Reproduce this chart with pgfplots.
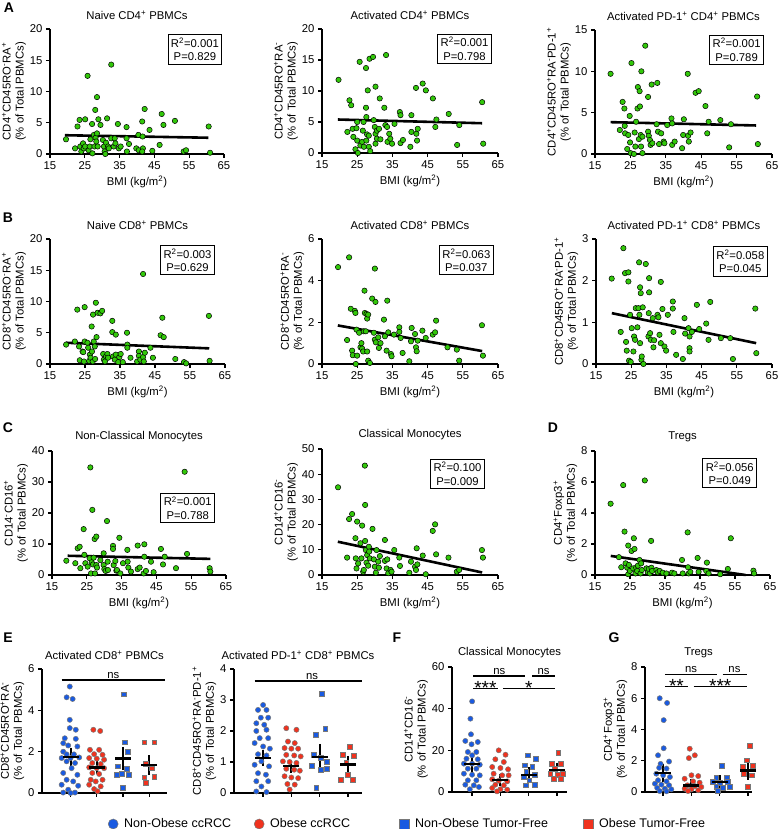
\documentclass[border=0pt]{standalone}
\usepackage{fontspec}
\setmainfont{Liberation Sans}
\usepackage{pgfplots}
\pgfplotsset{compat=1.18}

\definecolor{ptgreen}{RGB}{50,200,10}
\definecolor{ptblue}{RGB}{25,90,225}
\definecolor{ptred}{RGB}{240,50,30}
\definecolor{ptedge}{RGB}{120,120,120}

\newcommand{\sups}[1]{\textsuperscript{#1}}

\pgfplotsset{
  prism/.style={
    scale only axis, axis lines=left, axis line style={-, line width=1.3pt},
    tick style={black, line width=1.3pt}, tick align=outside, major tick length=4pt,
    clip=false, ymin=0,
    font=\fontsize{11.3}{13}\selectfont,
    /pgf/number format/assume math mode=true,
    ylabel style={align=center},
    ylabel shift=-3pt,
    anchor=south west,
  },
  bmi/.style={prism, xmin=15, xmax=65, xtick={15,25,...,65},
    xlabel={BMI (kg/m\sups{2})}},
  grp/.style={prism, xtick={0,1,2,3}, xticklabels={\mbox{},\mbox{},\mbox{},\mbox{}}},
  scat/.style={only marks, mark=*, mark size=2.7pt,
    mark options={fill=ptgreen, draw=black, line width=0.5pt}},
  fit/.style={black, line width=2.6pt, no marks},
  bc/.style={only marks, mark=*, mark size=2.6pt, mark options={fill=ptblue, draw=ptedge, line width=0.5pt}},
  rc/.style={only marks, mark=*, mark size=2.6pt, mark options={fill=ptred, draw=ptedge, line width=0.5pt}},
  bs/.style={only marks, mark=square*, mark size=2.4pt, mark options={fill=ptblue, draw=ptedge, line width=0.5pt}},
  rs/.style={only marks, mark=square*, mark size=2.4pt, mark options={fill=ptred, draw=ptedge, line width=0.5pt}},
  msem/.style={forget plot, only marks, mark=-, mark size=8pt, mark options={line width=2.3pt, black},
    error bars/.cd, y dir=both, y explicit, error mark=-,
    error mark options={mark size=4.5pt, line width=2pt, black},
    error bar style={line width=2pt, black}},
}

\newcommand{\statbox}[3]{\node[draw, line width=0.9pt, align=center, inner sep=3pt,
  font=\fontsize{11.3}{13.5}\selectfont] at (rel axis cs:#1) {R\sups{2}=#2\\P=#3};}
\newcommand{\stars}[3]{\node[inner sep=0pt, font=\fontsize{19}{19}\selectfont] at (axis cs:#1,#2) [yshift=0.5pt] {#3};}

\begin{document}
\begin{tikzpicture}[x=1pt, y=1pt]
\useasboundingbox (0,0) rectangle (777,829);

% ---------------- row A ----------------
\begin{axis}[bmi, at={(50pt,675pt)}, width=174pt, height=125pt, ymax=20, ytick={0,5,...,20},
  title={Naive CD4\sups{+} PBMCs},
  ylabel={CD4\sups{+}CD45RO\sups{-}RA\sups{+}\\(\% of Total PBMCs)}]
\addplot[scat] coordinates {
(19.6,2.35)(22.2,0.9)(22.9,4.4)(23.5,5.45)(23.7,1.2)(24.0,0.4)(24.5,1.7)(24.7,0.9)(25.1,5.55)(25.1,1.2)
(25.8,12.5)(26.1,0.6)(26.4,1.2)(26.6,2.35)(27.1,4.8)(27.2,0.1)(27.6,3.05)(27.8,1.2)(28.0,7.05)(28.1,2.6)
(28.3,2.0)(28.5,9.1)(28.5,3.3)(28.7,1.2)(28.9,5.55)(29.5,4.65)(30.2,2.25)(30.5,1.2)(30.7,0.4)(30.9,0.0)
(31.1,1.8)(31.4,5.7)(31.7,1.2)(31.9,0.9)(32.6,14.3)(32.6,2.5)(33.3,1.2)(33.6,2.5)(33.8,1.7)(34.5,4.8)
(34.8,0.9)(35.3,1.2)(37.0,4.3)(37.0,2.5)(37.1,0.4)(37.7,1.6)(39.8,0.9)(40.4,3.05)(40.5,0.6)(41.5,5.2)
(41.6,2.8)(41.7,0.9)(42.2,7.2)(41.5,0.4)(43.6,3.85)(44.4,0.5)(46.5,1.45)(47.1,6.4)(47.6,4.65)(50.9,5.3)
(53.4,0.4)(54.1,0.6)(60.6,4.4)(61.0,0.2)};
\addplot[fit] coordinates {(19.3,3.0) (60.5,2.6)};
\statbox{0.833,0.836}{0.001}{0.829}
\end{axis}

\begin{axis}[bmi, at={(322pt,676pt)}, width=176pt, height=124pt, ymax=20, ytick={0,5,...,20},
  title={Activated CD4\sups{+} PBMCs},
  ylabel={CD4\sups{+}CD45RO\sups{+}RA\sups{-}\\(\% of Total PBMCs)}]
\addplot[scat] coordinates {
(19.7,11.8)(22.2,3.4)(22.8,8.5)(23.3,7.7)(23.7,3.9)(23.9,2.6)(24.5,0.6)(25.2,0.0)(24.8,4.0)(25.0,5.0)
(25.0,2.0)(25.7,14.7)(25.9,1.2)(26.4,1.8)(26.6,3.6)(26.8,5.0)(26.9,1.0)(27.5,13.7)(27.5,7.3)(27.6,5.8)
(27.6,2.0)(27.8,3.0)(28.0,10.1)(28.3,2.8)(28.3,1.0)(28.5,15.2)(28.7,0.3)(29.5,15.5)(29.7,5.3)(30.0,4.2)
(30.2,3.1)(30.2,10.7)(30.2,1.5)(30.6,2.3)(30.6,3.6)(31.2,3.9)(31.4,8.8)(31.6,2.2)(32.7,7.3)(33.0,4.5)
(33.2,15.8)(33.5,4.2)(33.6,1.8)(34.1,3.1)(34.4,2.3)(34.9,1.5)(35.6,4.7)(37.1,6.6)(37.3,6.1)(37.3,1.6)
(38.0,2.1)(40.1,1.0)(40.4,6.1)(40.4,3.4)(41.7,10.5)(41.8,3.1)(42.0,2.0)(42.2,3.9)(43.6,11.2)(44.5,10.1)
(46.5,8.8)(47.2,4.2)(47.5,5.4)(51.0,6.3)(53.4,1.3)(54.0,4.5)(60.5,8.2)(60.8,1.5)};
\addplot[fit] coordinates {(19.5,5.4) (60.5,4.8)};
\statbox{0.81,0.84}{0.001}{0.798}
\end{axis}

\begin{axis}[bmi, at={(595pt,675pt)}, width=177pt, height=124pt, ymax=15, ytick={0,5,...,15},
  title={Activated PD-1\sups{+} CD4\sups{+} PBMCs},
  ylabel={CD4\sups{+}CD45RO\sups{+}RA\sups{-}PD-1\sups{+}\\(\% of Total PBMCs)}]
\addplot[scat] coordinates {
(19.4,9.7)(22.0,2.9)(22.8,6.3)(23.3,5.5)(23.4,3.4)(23.5,2.5)(24.1,0.6)(24.4,2.3)(24.8,4.6)(24.9,1.4)
(25.1,0.1)(25.3,11.0)(26.0,0.0)(26.2,2.6)(26.4,0.9)(26.6,3.9)(27.0,5.5)(27.1,8.1)(27.4,1.8)(27.6,7.6)
(27.7,5.75)(27.9,2.3)(28.0,0.9)(28.1,10.0)(28.4,2.1)(28.4,0.1)(29.2,13.1)(30.0,6.9)(30.0,2.7)(30.2,2.2)
(30.5,1.7)(30.7,1.1)(31.0,8.4)(31.2,1.3)(32.6,8.6)(32.4,3.6)(32.8,2.7)(33.1,1.2)(33.7,2.5)(34.4,1.5)
(34.6,1.3)(35.4,3.5)(36.6,4.3)(36.8,1.1)(36.8,3.7)(37.5,1.5)(39.6,0.7)(39.9,2.3)(40.1,4.2)(41.2,9.7)
(41.3,2.2)(41.5,1.5)(42.0,2.6)(43.4,7.4)(44.3,7.6)(46.2,5.8)(46.7,2.5)(47.1,3.9)(50.4,4.1)(53.4,3.6)
(52.9,0.8)(60.8,6.95)(61.0,1.2)};
\addplot[fit] coordinates {(19.4,3.85) (60.5,3.45)};
\statbox{0.80,0.84}{0.001}{0.789}
\end{axis}

% ---------------- row B ----------------
\begin{axis}[bmi, at={(50pt,465pt)}, width=175pt, height=125pt, ymax=20, ytick={0,5,...,20},
  title={Naive CD8\sups{+} PBMCs},
  ylabel={CD8\sups{+}CD45RO\sups{-}RA\sups{+}\\(\% of Total PBMCs)}]
\addplot[scat] coordinates {
(19.6,3.1)(22.1,3.6)(22.8,8.7)(23.3,2.8)(23.5,0.6)(24.3,2.0)(24.5,1.9)(24.7,0.4)(24.9,9.1)(24.9,3.6)
(25.7,3.4)(25.9,2.6)(26.2,0.5)(26.4,1.5)(26.6,1.0)(26.9,6.0)(27.0,2.0)(27.2,0.4)(27.3,7.9)(27.5,3.6)
(27.8,2.8)(27.9,0.8)(28.1,9.8)(28.3,4.3)(28.6,8.2)(29.4,8.1)(29.9,8.5)(30.2,1.6)(30.4,0.7)(30.7,0.4)
(31.0,1.2)(31.4,1.6)(31.6,1.0)(32.8,6.9)(32.8,5.1)(33.0,1.2)(33.5,0.7)(33.8,4.7)(33.8,1.5)(34.5,0.3)
(34.8,1.1)(35.2,1.6)(35.8,0.3)(37.0,5.0)(37.1,3.1)(37.1,2.6)(38.0,1.0)(39.9,0.4)(40.4,2.0)(40.4,1.3)
(40.8,0.7)(41.6,14.4)(41.6,1.1)(41.8,0.4)(42.1,1.8)(43.7,2.6)(44.4,1.0)(46.6,4.6)(47.1,7.4)(47.5,4.3)
(50.8,0.8)(53.3,0.3)(53.9,0.1)(60.4,7.7)(60.6,0.5)};
\addplot[fit] coordinates {(19.5,3.4) (60.5,2.5)};
\statbox{0.786,0.83}{0.003}{0.629}
\end{axis}

\begin{axis}[bmi, at={(322pt,465pt)}, width=176pt, height=125pt, ymax=6, ytick={0,2,4,6},
  title={Activated CD8\sups{+} PBMCs},
  ylabel={CD8\sups{+}CD45RO\sups{+}RA\sups{-}\\(\% of Total PBMCs)}]
\addplot[scat] coordinates {
(19.56,4.65)(22.13,1.15)(22.7,5.12)(23.18,2.65)(23.56,0.64)(23.75,0.42)(24.32,2.55)(24.5,2.45)(24.6,0.0)(24.8,1.65)
(24.98,0.4)(25.55,1.5)(25.93,0.8)(26.2,1.0)(26.4,0.74)(26.7,0.6)(26.88,1.57)(27.07,3.52)(27.17,2.45)(27.45,1.57)
(27.64,2.4)(27.83,2.18)(28.12,2.37)(27.83,0.6)(28.12,0.16)(28.6,0.05)(29.26,3.14)(29.73,1.5)(30.02,4.58)(30.2,2.98)
(30.02,1.17)(30.3,1.04)(30.97,1.28)(31.16,0.77)(31.63,1.0)(32.6,2.13)(32.87,1.33)(33.54,3.04)(33.35,0.64)(33.82,1.52)
(34.58,0.48)(34.77,0.37)(35.44,1.41)(36.96,1.76)(36.96,1.54)(37.34,1.25)(37.9,0.53)(39.8,0.13)(40.47,1.73)(40.28,1.09)
(41.43,1.44)(41.7,0.8)(41.9,0.61)(42.19,1.12)(43.52,1.6)(44.47,1.25)(46.46,1.41)(47.13,1.52)(47.41,2.08)(50.65,0.8)
(53.3,0.69)(53.97,0.16)(60.44,1.86)(60.72,0.4)};
\addplot[fit] coordinates {(19.5,1.85) (60.5,0.62)};
\statbox{0.82,0.83}{0.063}{0.037}
\end{axis}

\begin{axis}[bmi, at={(596pt,465pt)}, width=176pt, height=125pt, ymax=3, ytick={0,1,2,3},
  title={Activated PD-1\sups{+} CD8\sups{+} PBMCs},
  ylabel={CD8\sups{+}CD45RO\sups{+}RA\sups{-}PD-1\sups{+}\\(\% of Total PBMCs)}]
\addplot[scat] coordinates {
(19.46,2.05)(22.02,0.77)(22.78,2.78)(23.25,2.18)(23.54,0.53)(23.73,0.32)(24.2,2.2)(24.2,1.98)(24.39,0.08)(24.68,1.18)
(24.87,0.05)(25.15,0.86)(25.63,0.3)(25.82,0.66)(26.1,0.58)(26.29,1.34)(26.76,0.88)(27.05,1.34)(27.24,2.44)(27.33,1.18)
(27.52,1.84)(27.52,0.5)(27.71,1.7)(27.9,0.1)(28.0,0.18)(28.28,1.36)(28.47,0.0)(29.14,2.4)(29.9,0.66)(29.99,1.22)
(30.09,2.06)(30.09,1.72)(30.37,0.74)(30.56,0.58)(31.13,1.1)(31.32,0.4)(31.51,0.57)(32.46,1.18)(32.74,1.12)(33.03,0.7)
(33.41,1.97)(33.41,0.5)(33.88,1.32)(34.45,0.42)(34.92,0.32)(35.4,1.18)(36.82,1.5)(36.82,1.33)(37.0,0.77)(37.77,0.22)
(39.67,0.12)(40.14,1.1)(40.33,0.73)(41.28,0.86)(41.57,0.66)(41.57,0.38)(41.57,0.3)(42.23,0.77)(43.65,1.42)(44.32,0.84)
(46.31,0.97)(46.97,0.58)(47.45,1.49)(50.48,0.62)(53.14,0.62)(53.9,0.12)(60.26,1.33)(60.54,0.26)};
\addplot[fit] coordinates {(19.5,1.22) (60.5,0.5)};
\statbox{0.82,0.82}{0.058}{0.045}
\end{axis}

% ---------------- row C/D ----------------
\begin{axis}[bmi, at={(52pt,254pt)}, width=174pt, height=124pt, ymax=40, ytick={0,10,...,40},
  title={Non-Classical Monocytes},
  ylabel={CD14\sups{-}CD16\sups{+}\\(\% of Total PBMCs)}]
\addplot[scat] coordinates {
(19.12,4.6)(21.7,3.8)(22.38,8.6)(22.95,9.1)(23.14,2.2)(24.1,14.8)(24.29,6.5)(24.58,3.8)(25.25,2.7)(25.82,5.4)
(26.02,34.7)(26.2,0.5)(26.4,4.1)(26.59,21.0)(26.78,3.4)(26.97,5.6)(27.26,11.6)(27.36,0.5)(27.74,12.4)(27.74,3.2)
(27.93,2.4)(28.89,4.8)(29.85,7.0)(29.85,3.2)(30.04,1.9)(30.42,1.3)(30.8,17.4)(31.0,4.3)(31.09,1.6)(32.53,9.4)
(32.53,8.4)(32.72,3.2)(33.2,4.5)(33.49,1.4)(33.68,1.6)(34.35,12.0)(34.64,0.5)(35.4,3.8)(36.65,8.1)(36.74,4.3)
(36.93,2.4)(37.7,1.1)(39.62,9.5)(39.62,1.9)(40.19,2.4)(41.34,0.5)(41.53,9.9)(41.53,5.9)(42.0,1.3)(43.45,4.3)
(44.2,0.9)(46.3,8.4)(46.9,3.4)(47.38,5.9)(50.63,2.2)(53.12,33.3)(53.8,6.8)(60.3,2.2)(60.5,1.1)};
\addplot[fit] coordinates {(19.5,6.2) (60.5,5.2)};
\statbox{0.78,0.54}{0.001}{0.788}
\end{axis}

\begin{axis}[bmi, at={(322pt,254pt)}, width=176pt, height=126pt, ymax=50, ytick={0,10,...,50},
  title={Classical Monocytes},
  ylabel={CD14\sups{+}CD16\sups{-}\\(\% of Total PBMCs)}]
\addplot[scat] coordinates {
(19.56,34.8)(22.13,6.9)(22.7,22.2)(23.56,24.2)(24.5,14.6)(24.6,6.6)(24.8,2.6)(24.98,21.2)(25.26,4.6)(25.93,12.6)
(26.2,6.6)(26.4,19.6)(26.7,1.3)(26.88,2.0)(27.17,43.4)(27.26,27.8)(27.26,13.5)(27.45,9.9)(27.64,4.9)(27.83,7.9)
(28.12,3.7)(28.31,11.2)(28.4,9.3)(28.6,6.6)(29.35,18.3)(29.73,6.2)(30.02,3.3)(30.3,0.9)(30.5,9.9)(30.97,5.3)
(31.16,2.9)(31.44,7.5)(32.87,13.9)(32.87,5.6)(33.35,2.6)(33.54,6.2)(33.82,0.7)(34.49,2.0)(34.77,1.3)(35.53,9.9)
(36.96,6.9)(37.15,3.6)(39.8,0.9)(40.28,5.3)(41.43,3.3)(41.7,2.0)(41.9,10.6)(42.09,4.2)(43.62,7.7)(44.47,0.3)
(46.46,17.5)(47.13,20.1)(47.41,8.2)(50.93,6.9)(53.3,1.3)(53.97,2.0)(60.44,9.9)(60.72,6.9)};
\addplot[fit] coordinates {(19.5,13.2) (60.5,1.0)};
\statbox{0.77,0.805}{0.100}{0.009}
\end{axis}

\begin{axis}[bmi, at={(595pt,254pt)}, width=175pt, height=124pt, ymax=8, ytick={0,2,...,8},
  title={Tregs},
  ylabel={CD4\sups{+}Foxp3\sups{+}\\(\% of Total PBMCs)}]
\addplot[scat] coordinates {
(19.46,4.6)(21.83,1.15)(22.5,0.5)(23.06,5.8)(23.44,2.8)(23.73,0.75)(24.2,0.47)(24.49,1.9)(24.49,0.05)(24.68,0.65)
(24.96,0.26)(25.44,1.55)(25.91,0.43)(26.1,2.37)(26.29,1.68)(26.57,0.1)(26.76,0.47)(27.05,0.26)(27.24,0.6)(27.71,0.97)
(28.0,0.1)(28.19,0.75)(28.38,0.32)(29.23,6.1)(29.7,0.43)(30.09,0.17)(30.37,0.39)(30.66,0.1)(31.03,2.2)(31.13,0.47)
(31.32,0.26)(32.55,0.32)(32.93,0.17)(33.5,0.26)(34.35,0.15)(35.4,0.1)(37.0,0.15)(37.68,0.1)(39.86,0.97)(40.05,0.1)
(41.47,2.75)(41.57,0.5)(41.76,0.1)(42.23,0.2)(44.32,1.1)(44.6,0.2)(46.78,0.26)(46.97,0.8)(47.45,0.1)(50.77,0.05)
(52.95,0.39)(53.8,2.37)(60.26,0.28)(60.45,0.1)};
\addplot[fit] coordinates {(19.5,1.23) (58,0)};
\statbox{0.77,0.82}{0.056}{0.049}
\end{axis}

% ---------------- row E/F/G ----------------
\begin{axis}[grp, at={(42pt,36pt)}, width=125pt, height=124pt, xmin=-1.09, xmax=3.68,
  ymax=6, ytick={0,2,4,6},
  title={Activated CD8\sups{+} PBMCs},
  ylabel={CD8\sups{+}CD45RO\sups{+}RA\sups{-}\\(\% of Total PBMCs)},
  legend columns=4,
  legend style={draw=none, fill=none, inner sep=0pt, at={(0.528,-0.25)}, anchor=west,
    font=\fontsize{12.5}{14}\selectfont},
  legend image post style={mark size=5pt}]
\addplot[bc] coordinates {
(-0.03,5.15)(-0.15,4.63)(0.08,4.55)(-0.03,3.54)(-0.03,3.14)(-0.22,2.65)(0.2,3.06)(-0.28,2.41)(0.2,2.62)(-0.09,2.30)
(-0.28,2.0)(0.26,2.25)(-0.15,1.87)(0.13,1.87)(-0.34,1.69)(0,1.69)(0.33,1.72)(-0.15,1.53)(0.17,1.45)(0.04,1.2)
(-0.28,0.97)(0.26,0.88)(-0.15,0.64)(0.1,0.56)(-0.34,0.4)(0.29,0.35)(-0.09,0.16)(-0.28,0.02)(0.17,0.02)(0,0.0)};
\addlegendentry{\makebox[132pt][l]{\hspace*{4pt}Non-Obese ccRCC}}
\addplot[rc] coordinates {
(0.87,3.06)(1.13,3.0)(0.74,2.09)(1.09,2.09)(0.9,1.88)(1.22,1.85)(0.71,1.69)(1,1.66)(1.28,1.61)(0.83,1.45)
(1.15,1.4)(0.71,1.24)(1.0,1.2)(1.28,1.2)(0.83,0.97)(1.09,0.92)(0.77,0.64)(1.22,0.64)(0.96,0.56)(0.71,0.4)
(1.15,0.32)(0.9,0.19)(1.03,0.08)};
\addlegendentry{\makebox[131pt][l]{\hspace*{4pt}Obese ccRCC}}
\addplot[bs] coordinates {
(2.03,4.78)(2.06,2.46)(2.19,2.0)(1.81,1.29)(2.13,1.17)(1.94,0.92)(1.77,0.88)(2.23,0.88)(2.0,0.25)};
\addlegendentry{\makebox[170pt][l]{\hspace*{4pt}Non-Obese Tumor-Free}}
\addplot[rs] coordinates {
(2.81,2.46)(3.19,2.46)(2.87,1.4)(3.1,1.2)(2.81,0.76)(3.19,0.8)(2.87,0.48)};
\addlegendentry{\hspace*{4pt}Obese Tumor-Free}
\addplot[msem] coordinates {(0,1.73) +- (0,0.25) (1,1.23) +- (0,0.1) (2,1.67) +- (0,0.35) (3,1.35) +- (0,0.25)};
\draw[line width=1.3pt] (axis cs:-0.34,5.47) -- (axis cs:3.61,5.47);
\node[anchor=south, inner sep=1.5pt] at (axis cs:1.63,5.47) {ns};
\end{axis}

\begin{axis}[grp, at={(234pt,36pt)}, width=128pt, height=124pt, xmin=-1.03, xmax=3.5,
  ymax=4, ytick={0,1,...,4},
  title={Activated PD-1\sups{+} CD8\sups{+} PBMCs},
  ylabel={CD8\sups{+}CD45RO\sups{+}RA\sups{-}PD-1\sups{+}\\(\% of Total PBMCs)}]
\addplot[bc] coordinates {
(0,2.84)(-0.18,2.68)(0.12,2.68)(-0.08,2.43)(0.18,2.43)(-0.24,2.25)(0.04,2.2)(-0.24,2.0)(0.12,2.04)(-0.12,1.77)
(0.18,1.77)(-0.3,1.61)(0,1.5)(0.24,1.43)(-0.18,1.25)(0.12,1.21)(-0.06,1.02)(-0.3,0.91)(0.21,0.86)(-0.18,0.64)
(0.1,0.59)(-0.24,0.38)(0.18,0.38)(-0.06,0.21)(-0.24,0.05)(0.12,0.03)};
\addplot[rc] coordinates {
(0.82,2.09)(1.18,2.04)(0.88,1.66)(1.12,1.61)(0.76,1.45)(1,1.43)(1.24,1.43)(0.82,1.23)(1.1,1.21)(1.33,1.18)
(0.7,1.02)(0.94,1.0)(1.18,0.97)(0.82,0.78)(1.1,0.75)(1.3,0.72)(0.76,0.54)(1,0.5)(1.24,0.48)(0.86,0.29)
(1.12,0.27)(0.94,0.11)};
\addplot[bs] coordinates {
(2.08,3.2)(2.2,2.07)(1.85,1.88)(1.8,1.23)(2.04,1.13)(2.24,1.02)(1.73,0.89)(2.04,0.75)(2.24,0.78)(1.88,0.18)};
\addplot[rs] coordinates {
(3.06,1.5)(2.82,1.23)(3.2,1.21)(2.94,0.97)(2.76,0.43)(3.18,0.43)(3.0,0.59)};
\addplot[msem] coordinates {(0,1.13) +- (0,0.12) (1,0.86) +- (0,0.07) (2,1.17) +- (0,0.27) (3,0.92) +- (0,0.13)};
\draw[line width=1.3pt] (axis cs:-0.3,3.61) -- (axis cs:3.51,3.61);
\node[anchor=south, inner sep=1.5pt] at (axis cs:1.73,3.61) {ns};
\end{axis}

\begin{axis}[grp, at={(452pt,37pt)}, width=115pt, height=125pt, xmin=-0.71, xmax=3.35,
  ymax=60, ytick={0,20,40,60},
  title={Classical Monocytes},
  ylabel={CD14\sups{+}CD16\sups{-}\\(\% of Total PBMCs)}]
\addplot[bc] coordinates {
(0,43.5)(-0.06,35.2)(-0.04,27.7)(-0.24,24.5)(0.2,24.0)(-0.02,22.9)(-0.15,19.2)(0.15,19.2)(0,17.6)(-0.2,16.0)
(0.2,15.7)(-0.29,13.6)(0,13.6)(0.27,13.1)(-0.15,11.2)(0.15,11.2)(-0.29,8.8)(0,8.3)(0.27,8.0)(-0.15,5.6)
(0.15,5.6)(-0.24,3.5)(0.06,3.2)(0.24,2.4)(-0.08,1.3)};
\addplot[rc] coordinates {
(0.94,20.0)(1.18,17.9)(0.82,15.7)(1.12,14.4)(0.71,12.0)(1,11.5)(1.27,10.9)(0.76,8.8)(1.06,8.0)(1.29,8.0)
(0.71,6.1)(0.94,5.4)(1.24,5.1)(0.82,3.5)(1.12,3.2)(0.71,1.9)(1,1.3)(1.24,1.1)(0.88,0.3)};
\addplot[bs] coordinates {
(1.96,17.6)(2.24,16.0)(1.85,12.8)(2.12,12.0)(1.91,9.6)(2.2,8.3)(1.81,7.2)(2.02,5.6)(1.88,3.2)(2.2,3.5)};
\addplot[rs] coordinates {
(3.04,18.9)(2.82,13.6)(3.14,13.6)(2.91,11.2)(2.76,8.8)(3.02,8.3)(3.21,8.8)(2.88,6.4)(3.12,6.4)};
\addplot[msem] coordinates {(0,13.3) +- (0,1.9) (1,5.8) +- (0,0.9) (2,8.3) +- (0,1.4) (3,10.7) +- (0,1.2)};
\draw[line width=1.3pt] (axis cs:0.04,55.7) -- (axis cs:1.88,55.7);
\draw[line width=1.3pt] (axis cs:2.12,55.7) -- (axis cs:2.92,55.7);
\node[anchor=south, inner sep=1.5pt] at (axis cs:0.96,55.7) {ns};
\node[anchor=south, inner sep=1.5pt] at (axis cs:2.52,55.7) {ns};
\draw[line width=1.3pt] (axis cs:0.04,49.6) -- (axis cs:0.91,49.6);
\draw[line width=1.3pt] (axis cs:1.09,49.6) -- (axis cs:2.92,49.6);
\stars{0.47}{49.6}{***}
\stars{2.0}{49.6}{*}
\end{axis}

\begin{axis}[grp, at={(645pt,37pt)}, width=107pt, height=125pt, xmin=-0.64, xmax=3.14,
  ymax=8, ytick={0,2,...,8},
  title={Tregs},
  ylabel={CD4\sups{+}Foxp3\sups{+}\\(\% of Total PBMCs)}]
\addplot[bc] coordinates {
(-0.12,6.0)(0.14,5.7)(0.02,4.6)(0.02,2.8)(-0.18,2.35)(0.21,1.95)(-0.09,1.8)(-0.14,1.55)(0.12,1.5)(-0.24,1.17)
(0,1.07)(0.24,0.96)(-0.18,0.75)(0.12,0.68)(-0.29,0.53)(-0.06,0.47)(0.21,0.43)(-0.21,0.26)(0.06,0.21)(0.29,0.17)
(-0.12,0.06)(0.12,0.04)};
\addplot[rc] coordinates {
(0.94,2.77)(1.12,2.35)(0.91,2.17)(1,1.07)(1.24,1.02)(0.76,0.85)(1.06,0.68)(1.29,0.6)(0.86,0.43)(1.12,0.38)
(1.35,0.32)(0.76,0.21)(1,0.17)(1.24,0.11)(0.88,0.06)};
\addplot[bs] coordinates {
(2.08,1.7)(1.88,0.9)(2.24,0.9)(1.76,0.64)(2,0.6)(2.29,0.64)(1.88,0.32)(2.12,0.28)(2.35,0.32)(1.94,0.1)};
\addplot[rs] coordinates {
(3.06,2.98)(2.96,2.03)(2.82,1.6)(3.18,1.66)(2.85,1.17)(3.12,1.07)(3,0.32)};
\addplot[msem] coordinates {(0,1.2) +- (0,0.3) (1,0.42) +- (0,0.15) (2,0.65) +- (0,0.13) (3,1.38) +- (0,0.3)};
\draw[line width=1.3pt] (axis cs:0.06,7.52) -- (axis cs:1.92,7.52);
\draw[line width=1.3pt] (axis cs:2.1,7.52) -- (axis cs:2.95,7.52);
\node[anchor=south, inner sep=1.5pt] at (axis cs:0.99,7.52) {ns};
\node[anchor=south, inner sep=1.5pt] at (axis cs:2.52,7.52) {ns};
\draw[line width=1.3pt] (axis cs:0.06,6.77) -- (axis cs:0.88,6.77);
\draw[line width=1.3pt] (axis cs:1.08,6.77) -- (axis cs:2.95,6.77);
\stars{0.47}{6.77}{**}
\stars{2.02}{6.77}{***}
\end{axis}

% panel letters
\begin{scope}[every node/.style={font=\bfseries\fontsize{14}{16}\selectfont, inner sep=0pt}]
\node at (9,821) {A};
\node at (8,611) {B};
\node at (8,401) {C};
\node at (553,401) {D};
\node at (8,191) {E};
\node at (397,191) {F};
\node at (614,191) {G};
\end{scope}
\end{tikzpicture}
\end{document}
